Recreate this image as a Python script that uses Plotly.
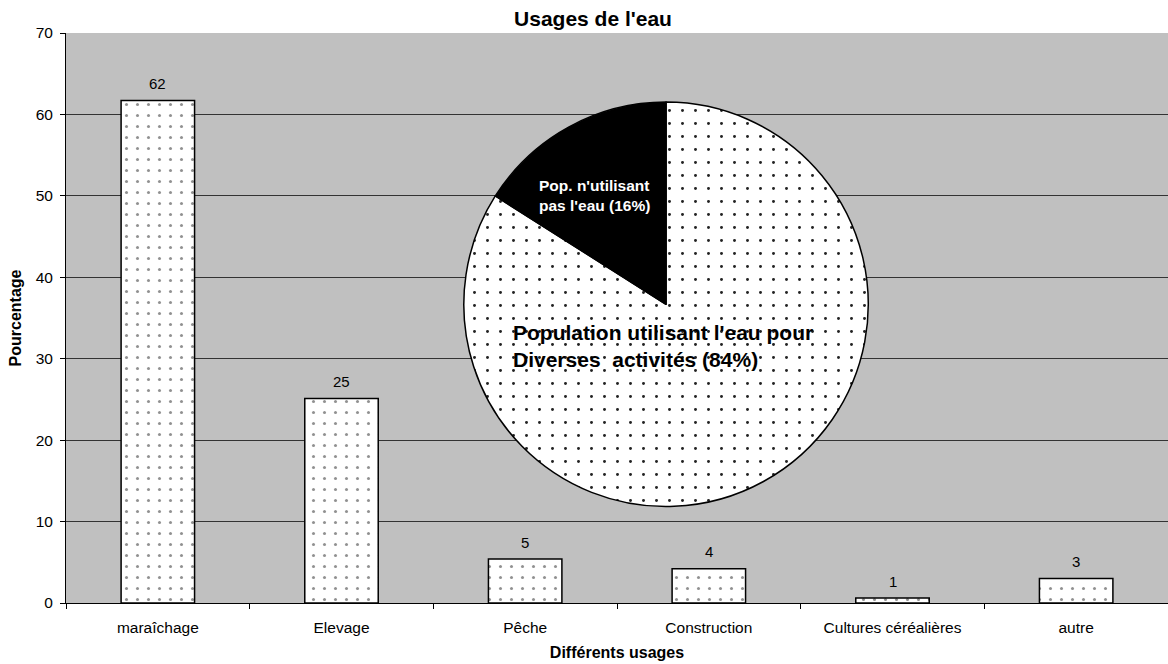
import plotly.graph_objects as go

# Water usage shares (percent) by activity
categories = ["maraîchage", "Elevage", "Pêche", "Construction", "Cultures céréalières", "autre"]
values = [61.7, 25.1, 5.4, 4.2, 0.6, 3.0]

# Share of the population using / not using water
pie_labels = ["Population utilisant l'eau pour<br>Diverses  activités", "Pop. n'utilisant<br>pas l'eau"]
pie_values = [84, 16]

y_ticks = [0, 10, 20, 30, 40, 50, 60, 70]

FONT = "Liberation Sans, Arial, sans-serif"

fig = go.Figure()

fig.add_trace(go.Bar(
    x=categories,
    y=values,
    width=0.4,
    marker=dict(
        color="white",
        line=dict(color="black", width=1.5),
        pattern=dict(shape=".", fgcolor="#222222", bgcolor="white", size=11, solidity=0.06),
    ),
    hoverinfo="skip",
    showlegend=False,
))

# Value labels above each bar
for cat, val in zip(categories, values):
    fig.add_annotation(
        x=cat, y=val, text="%.0f" % val, showarrow=False,
        yanchor="middle", yshift=17,
        font=dict(family=FONT, size=15, color="black"),
    )

fig.add_trace(go.Pie(
    labels=pie_labels,
    values=pie_values,
    sort=False,
    direction="clockwise",
    rotation=0,
    textinfo="none",
    marker=dict(
        colors=["white", "black"],
        line=dict(color="black", width=1.5),
        pattern=dict(shape=[".", ""], fgcolor="#222222", bgcolor="white", size=13, solidity=0.04),
    ),
    domain=dict(x=[0.361, 0.728], y=[0.168, 0.880]),
    showlegend=False,
    hoverinfo="skip",
))

# Labels inside the pie slices
fig.add_annotation(
    xref="paper", yref="paper", x=(594 - 66) / 1102, y=(603 - 195) / 570,
    text="<b>%s (%d%%)</b>" % (pie_labels[1], pie_values[1]),
    showarrow=False, align="left", xanchor="center", yanchor="middle",
    font=dict(family=FONT, size=15.5, color="white"),
)
fig.add_annotation(
    xref="paper", yref="paper", x=(511 - 66) / 1102, y=(603 - 346) / 570,
    text="<b>%s (%d%%)</b>" % (pie_labels[0], pie_values[0]),
    showarrow=False, align="left", xanchor="left", yanchor="middle",
    font=dict(family=FONT, size=21, color="black"),
)

fig.update_layout(
    width=1168, height=664,
    margin=dict(l=66, r=0, t=33, b=61),
    paper_bgcolor="white",
    plot_bgcolor="#C0C0C0",
    font=dict(family=FONT, size=15, color="black"),
    title=dict(text="<b>Usages de l'eau</b>", x=593 / 1168, xanchor="center",
               y=1 - 19 / 664, yanchor="middle", font=dict(family=FONT, size=21)),
)

fig.update_xaxes(
    title=dict(text="<b>Différents usages</b>", font=dict(family=FONT, size=16), standoff=12),
    showline=True, linecolor="black", linewidth=1,
    ticks="outside", tickson="boundaries", ticklen=5, tickcolor="black",
    ticklabelstandoff=10,
    tickfont=dict(family=FONT, size=15.5),
    showgrid=False,
)
fig.update_yaxes(
    title=dict(text="<b>Pourcentage</b>", font=dict(family=FONT, size=16), standoff=10),
    range=[0, 70], tickvals=y_ticks,
    showline=True, linecolor="black", linewidth=1,
    ticks="outside", ticklen=5, tickcolor="black",
    ticklabelstandoff=4,
    tickfont=dict(family=FONT, size=15.5),
    showgrid=True, gridcolor="#333333", gridwidth=1,
    zeroline=False,
)

fig.write_html("out.html")
